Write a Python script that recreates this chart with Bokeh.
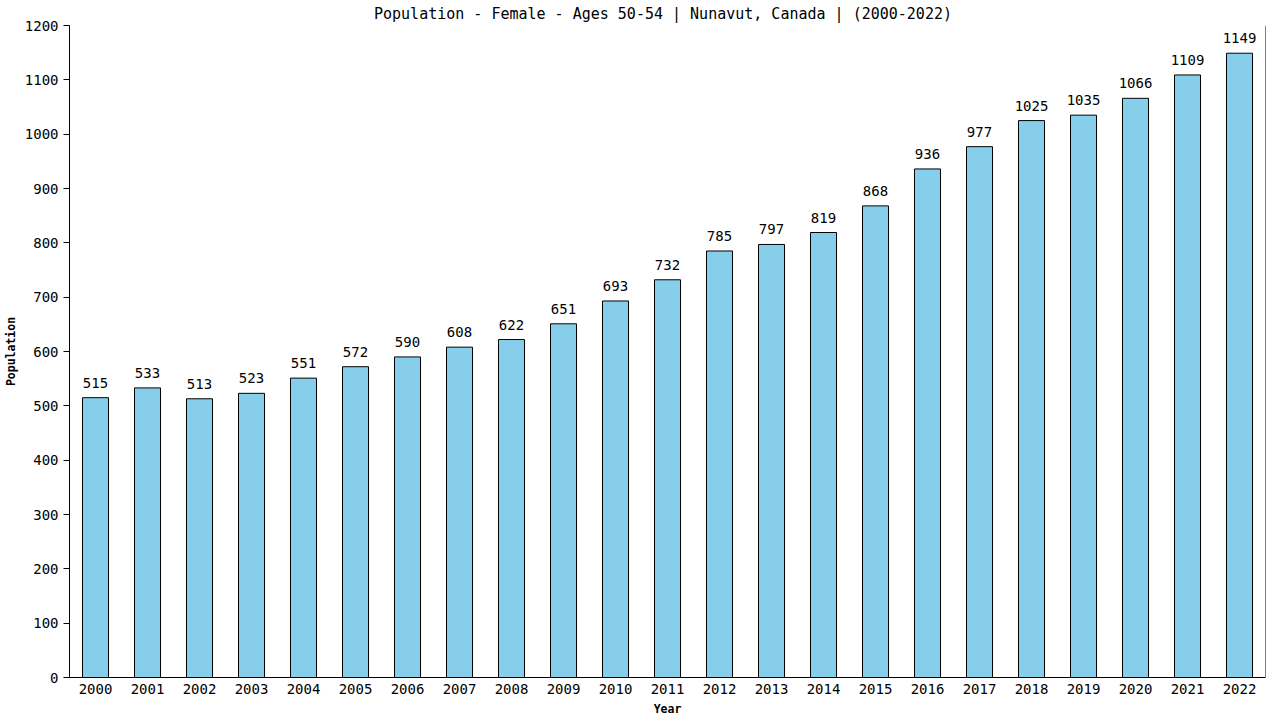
from bokeh.plotting import figure
from bokeh.models import Range1d, FixedTicker, Span, ColumnDataSource, LabelSet
from bokeh.core.properties import value
from bokeh.embed import file_html
from bokeh.resources import INLINE

years = [str(y) for y in range(2000, 2023)]
values = [515, 533, 513, 523, 551, 572, 590, 608, 622, 651, 693, 732, 785, 797,
          819, 868, 936, 977, 1025, 1035, 1066, 1109, 1149]
y_ticks = list(range(0, 1201, 100))
title_text = "Population - Female - Ages 50-54 | Nunavut, Canada |  (2000-2022)"
x_title = "Year"
y_title = "Population"

FONT = "DejaVu Sans Mono"

xs = list(range(len(years)))
src = ColumnDataSource(dict(x=xs, top=values, label=[str(v) for v in values]))

p = figure(width=1280, height=720, output_backend="svg", toolbar_location=None,
           x_range=Range1d(-0.5, len(years) - 0.5), y_range=Range1d(0, 1200),
           min_border_left=69, min_border_right=15, min_border_top=25, min_border_bottom=43)

p.title.text = title_text
p.title.align = "center"
p.title.text_font = FONT
p.title.text_font_size = "15px"
p.title.text_font_style = "normal"
p.title.text_color = "black"
p.title.offset = 0
p.title.standoff = 5

p.vbar(x="x", top="top", width=0.5, source=src, fill_color="#87CEEB",
       line_color="black", line_width=1)

labels = LabelSet(x="x", y="top", text="label", source=src, text_align="center",
                  text_baseline="bottom", y_offset=10, text_font=value(FONT),
                  text_font_size="14px", text_color="black")
p.add_layout(labels)

p.xgrid.grid_line_color = None
p.ygrid.grid_line_color = None
p.outline_line_color = None

p.xaxis.ticker = FixedTicker(ticks=xs)
p.xaxis.major_label_overrides = {i: y for i, y in enumerate(years)}
p.xaxis.major_tick_line_color = None
p.xaxis.minor_tick_line_color = None
p.xaxis.major_tick_out = 0
p.xaxis.major_tick_in = 0
p.xaxis.major_label_standoff = 6
p.xaxis.axis_label = x_title
p.xaxis.axis_label_standoff = 5

p.yaxis.ticker = FixedTicker(ticks=y_ticks)
p.yaxis.minor_tick_line_color = None
p.yaxis.major_tick_out = 6
p.yaxis.major_tick_in = 0
p.yaxis.major_label_standoff = 5
p.yaxis.axis_label = y_title
p.yaxis.axis_label_standoff = 4

for ax in (p.xaxis, p.yaxis):
    ax.axis_line_color = "black"
    ax.axis_line_width = 1
    ax.major_label_text_font = FONT
    ax.major_label_text_font_size = "14px"
    ax.major_label_text_color = "black"
    ax.axis_label_text_font = FONT
    ax.axis_label_text_font_size = "11.5px"
    ax.axis_label_text_font_style = "bold"
    ax.axis_label_text_color = "black"

p.add_layout(Span(location=len(years) - 0.5, dimension="height", line_color="black", line_width=1))

open("out.html", "w").write(file_html(p, INLINE))
